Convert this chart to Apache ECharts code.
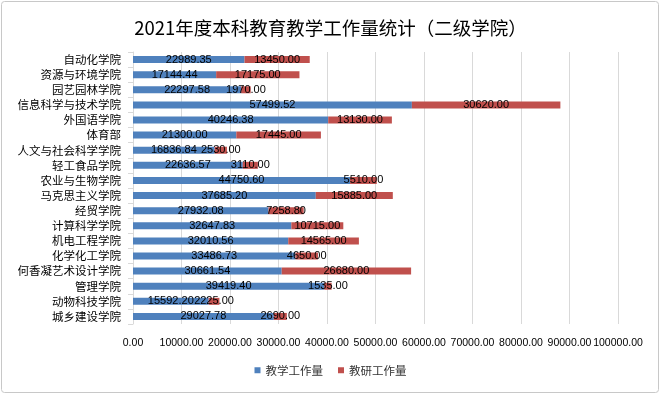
<!DOCTYPE html>
<html><head><meta charset="utf-8">
<script src="https://cdn.jsdelivr.net/npm/echarts@6/dist/echarts.min.js"></script>
<style>html,body{margin:0;padding:0;background:#fff}#c{width:661px;height:395px}</style>
</head><body><div id="c"></div>
<script>
const categories = ['自动化学院','资源与环境学院','园艺园林学院','信息科学与技术学院','外国语学院','体育部','人文与社会科学学院','轻工食品学院','农业与生物学院','马克思主义学院','经贸学院','计算科学学院','机电工程学院','化学化工学院','何香凝艺术设计学院','管理学院','动物科技学院','城乡建设学院'];
const teaching = [22989.35,17144.44,22297.58,57499.52,40246.38,21300.00,16836.84,22636.57,44750.60,37685.20,27932.08,32647.83,32010.56,33486.73,30661.54,39419.40,15592.20,29027.78];
const research = [13450.00,17175.00,1970.00,30620.00,13130.00,17445.00,2530.00,3110.00,5510.00,15885.00,7258.80,10715.00,14565.00,4650.00,26680.00,1535.00,2225.00,2690.00];
const seriesNames = ['教学工作量','教研工作量'];
const titleText = '2021年度本科教育教学工作量统计（二级学院）';

const cjk = '"Noto Sans CJK SC", sans-serif';
const num = '"Liberation Sans", Arial, sans-serif';
const chart = echarts.init(document.getElementById('c'), null, {renderer:'canvas'});
const lbl = {show:true, position:'inside', color:'#000', fontSize:11, fontFamily:num, textBorderWidth:0,
  formatter: p => p.value.toFixed(2)};
chart.setOption({
  animation:false,
  backgroundColor:'#fff',
  graphic:[{type:'rect', shape:{x:1.5,y:1.5,width:657,height:391,r:3}, style:{fill:'none',stroke:'#c8c8c8',lineWidth:1}, z:-1}],
  title:{text:titleText, left:'center', top:14, textStyle:{fontFamily:cjk, fontSize:18.5, fontWeight:'normal', color:'#000'}},
  legend:{data:seriesNames, bottom:14, left:'center', itemWidth:6, itemHeight:6, itemGap:15, icon:'rect',
    textStyle:{fontFamily:cjk, fontSize:11.5, color:'#333'}},
  grid:{left:133, right:43, top:52, bottom:71, containLabel:false},
  xAxis:{type:'value', min:0, max:100000, interval:10000,
    axisLine:{show:false}, axisTick:{show:false},
    splitLine:{lineStyle:{color:'#d9d9d9'}},
    axisLabel:{formatter:v=>v.toFixed(2), fontFamily:num, fontSize:10.5, color:'#000', margin:14,
      showMinLabel:true, showMaxLabel:true, hideOverlap:false}},
  yAxis:{type:'category', data:categories, inverse:true,
    axisLine:{lineStyle:{color:'#d9d9d9'}}, axisTick:{show:true, lineStyle:{color:'#d9d9d9'}},
    axisLabel:{fontFamily:cjk, fontSize:11.5, color:'#000', margin:12}},
  series:[
    {name:seriesNames[0], type:'bar', stack:'t', data:teaching, barWidth:7, itemStyle:{color:'#4F81BD'}, label:lbl},
    {name:seriesNames[1], type:'bar', stack:'t', data:research, barWidth:7, itemStyle:{color:'#C0504D'}, label:lbl}
  ]
});
</script></body></html>
